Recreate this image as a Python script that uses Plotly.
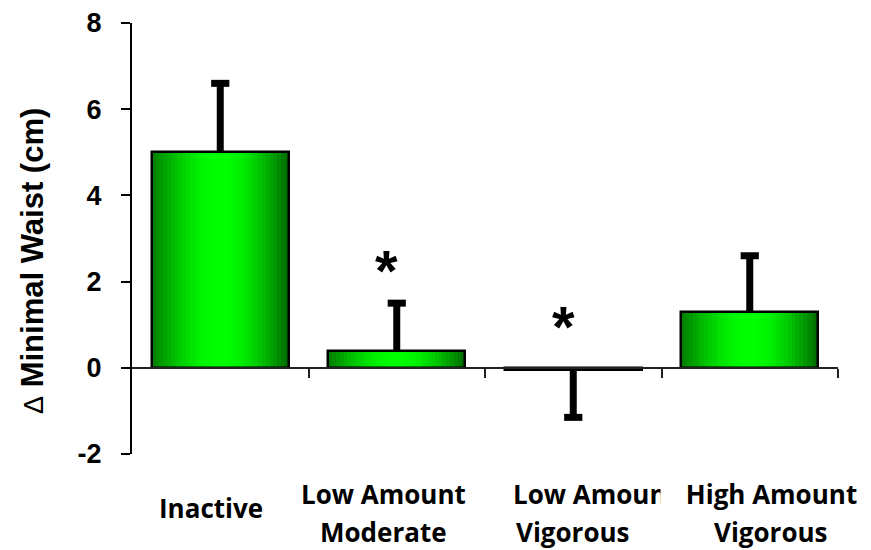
import plotly.graph_objects as go
import math

# ---- data ----
categories = ["Inactive", "Low Amount<br>Moderate", "Low Amount<br>Vigorous", "High Amount<br>Vigorous"]
values = [5.0, 0.4, -0.05, 1.3]
err_plus = [1.6, 1.1, 0.0, 1.3]
err_minus = [0.0, 0.0, 1.1, 0.0]
significant = [False, True, True, False]
star_y = [None, 2.5, 1.2, None]
y_ticks = [-2, 0, 2, 4, 6, 8]
y_title = "Minimal Waist (cm)"

x = list(range(len(categories)))
BAR_W = 0.775
N = 36

# the page body adds an 8px offset; compensate so the plot area lands where the reference has it
OFF = 8

def green(t):
    peak = 0.5
    if t <= peak:
        g = 125 + 130 * math.sin(math.pi / 2 * t / peak)
    else:
        g = 255 - 150 * (1 - math.cos(math.pi / 2 * (t - peak) / (1 - peak)))
    return f"rgb(0,{int(g)},0)"

fig = go.Figure()
sw = BAR_W / N
for i in range(N):
    t = (i + 0.5) / N
    fig.add_trace(go.Bar(
        x=x, y=values, width=sw * 1.15, offset=-BAR_W / 2 + i * sw,
        marker=dict(color=green(t), line=dict(width=0)),
        hoverinfo="skip", showlegend=False,
    ))

fig.add_trace(go.Bar(
    x=x, y=values, width=BAR_W, offset=-BAR_W / 2,
    marker=dict(color="rgba(0,0,0,0)", line=dict(color="black", width=2.5)),
    error_y=dict(type="data", symmetric=False, array=err_plus, arrayminus=err_minus,
                 color="black", thickness=7, width=0),
    showlegend=False,
))

# error-bar end caps
cap_y = [v + p - m for v, p, m in zip(values, err_plus, err_minus)]
fig.add_trace(go.Scatter(
    x=x, y=cap_y, mode="markers",
    marker=dict(symbol="line-ew", size=13, line=dict(color="black", width=7)),
    hoverinfo="skip", showlegend=False, cliponaxis=False,
))

annotations = []
for i, s in enumerate(significant):
    if s:
        annotations.append(dict(x=i, y=star_y[i], xref="x", yref="y", text="<b>*</b>",
                                showarrow=False, xshift=-10, yshift=-10,
                                font=dict(family="Arial", size=58, color="black")))

label_font = dict(family="Open Sans", size=26, color="black")
line_px = [494, 532]
single_px = 508
plot_bottom_px = 454
plot_h = 431
xshifts = [-9, -13.5, None, 21.5]
for i, lab in enumerate(categories):
    lines = lab.split("<br>")
    for j, ln in enumerate(lines):
        ypx = single_px if len(lines) == 1 else line_px[j]
        ypaper = (plot_bottom_px - ypx) / plot_h
        a = dict(x=i, y=ypaper, xref="x", yref="paper", text=f"<b>{ln}</b>",
                 showarrow=False, yanchor="middle", font=label_font)
        if xshifts[i] is None:
            a.update(xanchor="left", align="left", xshift=-62.5 + (3 if j == 1 else 0))
        else:
            a.update(xanchor="center", xshift=xshifts[i])
            if i == 3 and j == 0:
                a.update(bgcolor="white", width=219, align="center")
        annotations.append(a)

# y axis title
annotations.append(dict(x=0, y=(454 - 261) / 431, xref="paper", yref="paper",
                        xanchor="center", yanchor="middle", textangle=-90,
                        text=f"<span style='font-size:27px'>Δ</span> <b>{y_title}</b>",
                        showarrow=False, xshift=-(132 - 32),
                        font=dict(family="Arial", size=31, color="black")))

fig.update_layout(
    width=871 - OFF, height=550 - OFF,
    margin=dict(l=132 - OFF, r=33, t=23 - OFF, b=96, autoexpand=False),
    paper_bgcolor="white", plot_bgcolor="white",
    barmode="overlay", bargap=0,
    annotations=annotations,
    xaxis=dict(range=[-0.5, 3.5], anchor="free", position=0.2, automargin=False,
               showline=True, linecolor="#222", linewidth=1.5,
               tickvals=[0.5, 1.5, 2.5, 3.5], ticks="outside", ticklen=9,
               tickwidth=1.5, tickcolor="#222", showticklabels=False,
               showgrid=False, zeroline=False),
    yaxis=dict(range=[-2, 8], tickvals=y_ticks, ticktext=[str(v) for v in y_ticks],
               automargin=False,
               showline=True, linecolor="black", linewidth=2,
               ticks="outside", ticklen=9, tickwidth=2, tickcolor="black",
               ticklabelstandoff=14,
               tickfont=dict(family="Arial", size=27, color="black", weight="bold"),
               showgrid=False, zeroline=False),
)

fig.write_html("out.html")
